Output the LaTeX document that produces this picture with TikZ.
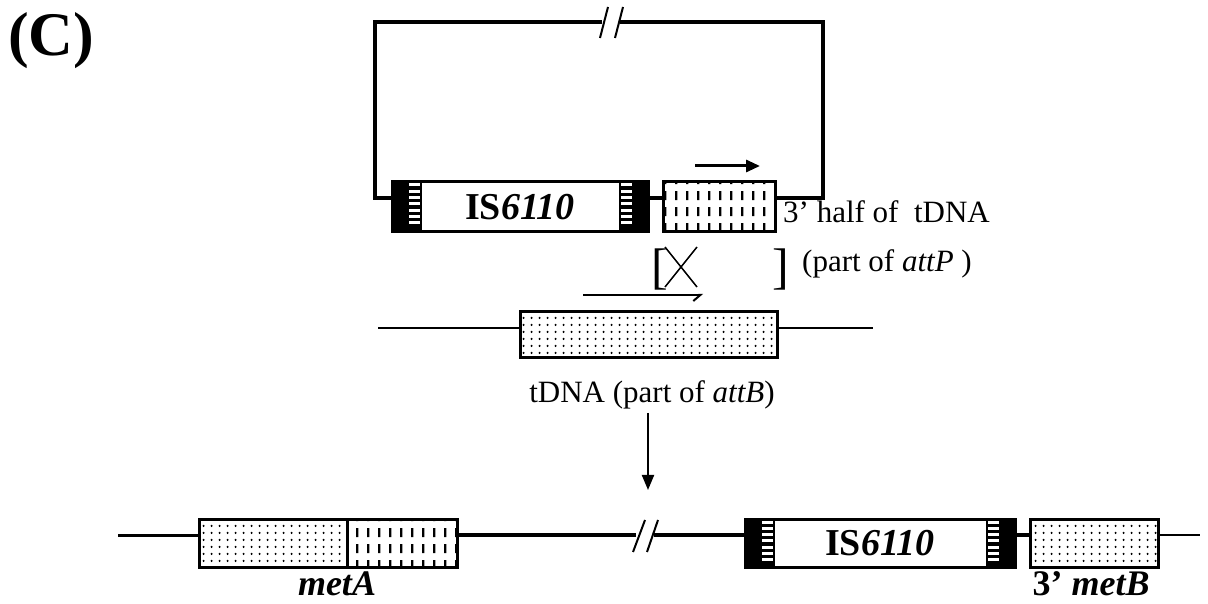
\documentclass[tikz,border=0pt]{standalone}
\usepackage{fontspec}
\setmainfont{Liberation Serif}
\usetikzlibrary{arrows.meta, patterns.meta}

\tikzdeclarepattern{
  name=tdots, type=uncolored,
  bounding box={(0pt,0pt) and (8pt,6.5pt)},
  tile size={(8pt,6.5pt)},
  code={\fill (4pt,3.25pt) circle [radius=1.25pt];}
}
\tikzdeclarepattern{
  name=tdash, type=uncolored,
  bounding box={(0pt,0pt) and (11pt,16pt)},
  tile size={(11pt,16pt)},
  code={\fill (4.4pt,3pt) rectangle (6.8pt,12.5pt);}
}

\begin{document}
\begin{tikzpicture}[
  x=1pt, y=1pt,
  isbox/.style={rectangle, draw=black, line width=3pt, fill=white,
    minimum height=50pt, inner sep=0pt,
    font=\fontsize{38}{40}\selectfont\bfseries},
  dotbox/.style={rectangle, draw=black, line width=3pt, pattern=tdots,
    minimum height=50pt, inner sep=0pt},
  dashbox/.style={dotbox, pattern=tdash},
  lbl/.style={font=\fontsize{31}{36}\selectfont, inner sep=0pt},
  genelbl/.style={font=\fontsize{36}{40}\selectfont\bfseries\itshape,
    inner sep=0pt, anchor=base},
  chrom/.style={line width=3.5pt},
  thinline/.style={line width=2pt},
  brk/.style={line width=2pt},
  arr/.style={-{Triangle[length=14pt,width=12pt]}, line width=3pt},
  downarr/.style={-{Triangle[length=15pt,width=12pt]}, line width=2pt},
  harp/.style={-{Straight Barb[right,length=7pt,width=12pt]}, line width=2pt},
]
\useasboundingbox (0,0) rectangle (1208,603);

% Panel label
\node[font=\fontsize{62}{62}\selectfont\bfseries, inner sep=0pt,
  anchor=base west] (panel) at (8,547) {(C)};

% Circular element with IS6110
\node[isbox, minimum width=256pt] (isT) at (520,396) {IS\textit{6110}};
\node[dashbox, minimum width=112pt] (tdH) at (719,396) {};
\coordinate (loopL) at (375,405);
\coordinate (loopR) at (823,405);
\coordinate (brkT1) at (602,581);
\coordinate (brkT2) at (620,581);
\draw[chrom] ([yshift=9pt]isT.west) -- (loopL) |- (brkT1);
\draw[chrom] (brkT2) -| (loopR) -- ([yshift=9pt]tdH.east);
\draw[chrom] ([yshift=9pt]isT.east) -- ([yshift=9pt]tdH.west);
\draw[brk] (600,565) -- (608,596) (615,565) -- (623,596);

\coordinate (fwdS) at (695,437);
\coordinate (fwdE) at (760,437);
\draw[arr] (fwdS) -- (fwdE);

\node[lbl, anchor=base west] (lblP1) at (783,380) {3’ half of~ tDNA};
\node[lbl, anchor=base west] (lblP2) at (802,331) {(part of \textit{attP} )};

% Crossover
\node[font=\fontsize{50}{50}\selectfont, inner sep=0pt] (brL) at (660,333) {[};
\node[font=\fontsize{50}{50}\selectfont, inner sep=0pt] (brR) at (781,333) {]};
\draw[line width=1.5pt] (665,356) -- (697,316) (665,316) -- (697,356);
\coordinate (revS) at (583,308);
\coordinate (revE) at (703,308);
\draw[harp] (revS) -- (revE);

% Chromosomal attB
\node[dotbox, minimum width=257pt, minimum height=46pt] (tdB) at (648.5,268) {};
\coordinate (midL) at (378,275);
\coordinate (midR) at (873,275);
\draw[thinline] (midL) -- ([yshift=7pt]tdB.west);
\draw[thinline] ([yshift=7pt]tdB.east) -- (midR);
\node[lbl, anchor=base] (lblB) at (652,200) {tDNA (part of \textit{attB})};

\coordinate (prodTop) at (648,113);
\draw[downarr, shorten <=3pt] (lblB.south -| prodTop) -- (prodTop);

% Integrated product
\node[dotbox, minimum width=148pt, minimum height=48pt] (metAL) at (273,60) {};
\node[dashbox, minimum width=110pt, minimum height=48pt] (metAR) at (402,60) {};
\node[isbox, minimum width=270pt, minimum height=48pt] (isB) at (880,60) {IS\textit{6110}};
\node[dotbox, minimum width=128pt, minimum height=48pt] (metB) at (1094,60) {};
\coordinate (botL) at (118,68);
\coordinate (brkB1) at (636,68);
\coordinate (brkB2) at (654,68);
\coordinate (botR) at (1200,68);
\draw[line width=3pt] (botL) -- ([yshift=8pt]metAL.west);
\draw[chrom] ([yshift=8pt]metAR.east) -- (brkB1);
\draw[chrom] (brkB2) -- ([yshift=8pt]isB.west);
\draw[chrom] ([yshift=8pt]isB.east) -- ([yshift=8pt]metB.west);
\draw[line width=2.5pt] ([yshift=8pt]metB.east) -- (botR);
\draw[brk] (633,51) -- (645,83) (647,51) -- (658,83);

\node[genelbl] (lblA) at (337,8) {metA};
\node[genelbl] (lblM) at (1091,8) {\textup{3’} metB};

% IS6110 terminal repeats
\foreach \is in {isT,isB} {
  \fill (\is.north west) rectangle ([xshift=31pt]\is.south west);
  \fill (\is.north east) rectangle ([xshift=-31pt]\is.south east);
  \foreach \k in {0,...,6} {
    \fill[white] ([xshift=18pt,yshift={-3pt-6.3pt*\k}]\is.north west) rectangle ++(11,-3);
    \fill[white] ([xshift=-18pt,yshift={-3pt-6.3pt*\k}]\is.north east) rectangle ++(-11,-3);
  }
}

\end{tikzpicture}
\end{document}
